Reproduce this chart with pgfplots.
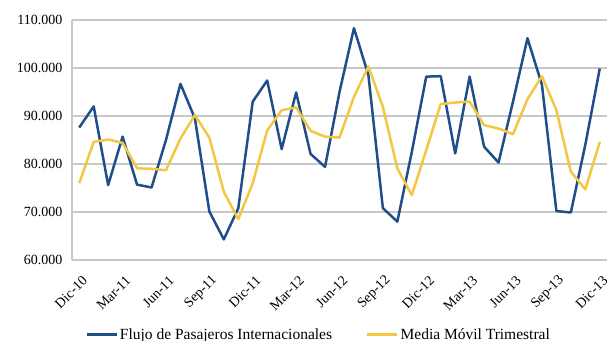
\documentclass[border=0pt]{standalone}
\usepackage{pgfplots}
\pgfplotsset{compat=1.18}
\usepackage{fontspec}
\setmainfont{Liberation Serif}
\definecolor{bluel}{HTML}{1F4E8A}
\definecolor{yell}{HTML}{F2C744}
\definecolor{gridc}{HTML}{C8C8C8}
\begin{document}
\begin{tikzpicture}
\useasboundingbox (0,0) rectangle (607bp,341bp);
\begin{axis}[
  at={(72bp,81bp)}, anchor=south west,
  scale only axis, width=535bp, height=240bp,
  xmin=-0.5, xmax=36.5, ymin=60, ymax=110,
  ytick={60,70,...,110},
  yticklabels={60.000,70.000,80.000,90.000,100.000,110.000},
  xtick={0,3,...,36},
  xticklabels={Dic-10,Mar-11,Jun-11,Sep-11,Dic-11,Mar-12,Jun-12,Sep-12,Dic-12,Mar-13,Jun-13,Sep-13,Dic-13},
  major x tick style={draw=none},
  extra x ticks={-0.5,2.5,...,35.5},
  extra x tick labels={},
  extra x tick style={major tick length=5bp, tick style={draw=gridc, line width=1.2bp}, tick align=outside, grid=none},
  ymajorgrids, grid style={gridc, line width=1.3bp},
  major y tick style={draw=none},
  axis x line*=bottom, axis y line*=left,
  axis line style={gridc, line width=1.3bp, -},
  yticklabel style={font=\fontsize{14bp}{16bp}\selectfont, xshift=-6bp},
  xticklabel style={font=\fontsize{14bp}{16bp}\selectfont, rotate=45, anchor=east, inner sep=1bp, xshift=-8bp, yshift=-17bp},
  legend style={draw=none, fill=none, at={(0.461,-0.31)}, anchor=center,
    legend columns=2, font=\fontsize{15.5bp}{17bp}\selectfont,
    /tikz/every even column/.append style={column sep=32bp}},
  legend image code/.code={\draw[#1, line width=2.5bp] (0bp,0bp) -- (30bp,0bp);},
]
\addplot[bluel, line width=2.5bp, line join=round] coordinates {
(0,87.6)(1,92.0)(2,75.6)(3,85.7)(4,75.7)(5,75.1)(6,85.0)(7,96.7)(8,89.5)(9,70.1)
(10,64.3)(11,70.8)(12,93.0)(13,97.4)(14,83.1)(15,94.9)(16,82.1)(17,79.4)(18,95.0)(19,108.3)
(20,98.5)(21,70.8)(22,68.0)(23,82.5)(24,98.2)(25,98.3)(26,82.2)(27,98.2)(28,83.6)(29,80.3)
(30,93.0)(31,106.2)(32,96.5)(33,70.2)(34,69.9)(35,84.0)(36,99.9)};
\addlegendentry{Flujo de Pasajeros Internacionales}
\addplot[yell, line width=2.5bp, line join=round] coordinates {
(0,76.0)(1,84.6)(2,85.1)(3,84.4)(4,79.1)(5,79.0)(6,78.7)(7,85.3)(8,90.2)(9,85.5)
(10,74.2)(11,68.5)(12,76.0)(13,87.0)(14,91.2)(15,91.8)(16,86.9)(17,85.7)(18,85.5)(19,94.0)
(20,100.3)(21,91.9)(22,79.1)(23,73.5)(24,82.9)(25,92.5)(26,92.8)(27,93.0)(28,88.1)(29,87.4)
(30,86.2)(31,93.5)(32,98.3)(33,91.2)(34,78.4)(35,74.7)(36,84.6)};
\addlegendentry{Media Móvil Trimestral}
\end{axis}
\end{tikzpicture}
\end{document}
